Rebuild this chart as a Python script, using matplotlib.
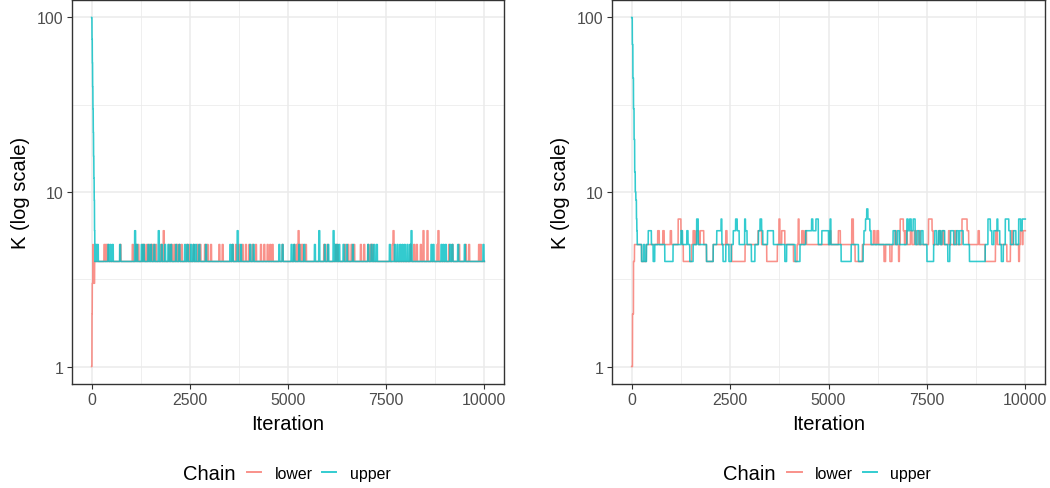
import numpy as np
import matplotlib
matplotlib.use("Agg")
import matplotlib.pyplot as plt
from matplotlib.lines import Line2D
from matplotlib.ticker import FixedLocator, NullFormatter

plt.rcParams["font.family"] = ["Liberation Sans", "DejaVu Sans"]

n_iter = 10000
spike_len = 25
colors = {"lower": "#F8766D", "upper": "#00BFC4"}

# left panel: chains settle at K = 4 with short jumps up
left_lower_t = [0, 8, 15, 30, 40, 75]
left_lower_k = [1, 2, 3, 5, 3, 4]
left_lower_spike_t = [313, 356, 398, 720, 1034, 1119, 1178, 1289, 1331, 1399, 1458, 1518, 1569,
                      1628, 1755, 1823, 1967, 2026, 2094, 2162, 2221, 2281, 2416, 2476, 2586,
                      2688, 2756, 2875, 2942, 3027, 3239, 3324, 3578, 3663, 3748, 3833, 3917,
                      4002, 4087, 4172, 4299, 4384, 4469, 4536, 4596, 4850, 5147, 5215, 5257,
                      5317, 5359, 5444, 5910, 5995, 6207, 6249, 6436, 6521, 6606, 6673, 6843,
                      6928, 7030, 7097, 7140, 7649, 7674, 8115, 8200, 8268, 8370, 8437, 8539,
                      8793, 8819, 9090, 9175, 9345, 9514, 9599, 9853, 9896]
left_lower_spike_k = [5, 5, 5, 5, 5, 5, 5, 5, 5, 5, 5, 5, 5,
                      5, 5, 6, 5, 5, 5, 5, 5, 5, 5, 5, 5,
                      5, 5, 5, 5, 5, 5, 5, 5, 5, 5, 5, 5,
                      5, 5, 5, 5, 5, 5, 5, 5, 5, 5, 5, 6,
                      5, 5, 5, 5, 5, 5, 5, 5, 5, 5, 5, 5,
                      5, 5, 5, 5, 5, 6, 5, 5, 5, 5, 6, 6,
                      5, 6, 5, 5, 5, 5, 5, 5, 5]

left_upper_t = [0, 8, 16, 24, 32, 40, 48, 56, 64, 72, 80]
left_upper_k = [100, 75, 55, 40, 30, 22, 16, 12, 9, 6, 4]
left_upper_spike_t = [101, 144, 415, 466, 525, 712, 1094, 1144, 1263, 1314, 1433, 1500, 1585,
                      1696, 1772, 1857, 1942, 2009, 2137, 2221, 2366, 2433, 2518, 2586, 2645,
                      2730, 2900, 3519, 3578, 3705, 3790, 4028, 4112, 4766, 4850, 5079, 5147,
                      5274, 5401, 5672, 5783, 5927, 6012, 6148, 6182, 6233, 6292, 6402, 6487,
                      6640, 7030, 7114, 7182, 7250, 7581, 7708, 7776, 7844, 7903, 7962, 8030,
                      8098, 8132, 8641, 8692, 8895, 8946, 9005, 9116, 9175, 9319, 9489, 9964]
left_upper_spike_k = [5, 5, 5, 5, 5, 5, 6, 5, 5, 5, 5, 5, 5,
                      6, 5, 5, 5, 5, 5, 5, 5, 5, 5, 5, 5,
                      5, 5, 5, 5, 6, 5, 5, 5, 5, 5, 5, 5,
                      5, 5, 5, 6, 5, 5, 6, 5, 5, 5, 5, 5,
                      5, 5, 5, 5, 5, 5, 5, 5, 5, 5, 5, 5,
                      5, 6, 5, 5, 5, 5, 5, 5, 5, 5, 5, 5]

# right panel: change points (iteration, new K)
right_lower_t = [0, 20, 45, 70, 250, 370, 660, 700, 790, 825, 980, 1010, 1180, 1250, 1270,
                 1310, 1520, 1560, 1600, 1640, 1700, 1740, 1830, 1900, 2070, 2390, 2420,
                 2540, 2880, 3210, 3300, 3430, 3700, 3740, 3765, 3810, 3890, 4110, 4200,
                 4230, 4250, 4320, 4360, 4400, 4440, 5030, 5060, 5250, 5300, 5590, 5630,
                 5675, 5860, 6140, 6180, 6230, 6270, 6410, 6450, 6560, 6610, 6690, 6720,
                 6780, 6800, 6820, 6900, 6930, 6960, 7000, 7080, 7120, 7180, 7230, 7300,
                 7330, 7540, 7630, 7660, 7800, 7850, 7900, 7930, 8050, 8080, 8200, 8240,
                 8390, 8520, 8560, 8800, 8830, 8980, 9240, 9250, 9290, 9530, 9620, 9650,
                 9690, 9830, 9850, 9870, 9920, 9940]
right_lower_k = [1, 2, 4, 5, 4, 5, 6, 5, 6, 5, 6, 5, 7, 6, 5,
                 4, 5, 6, 5, 6, 5, 6, 5, 4, 5, 6, 5,
                 4, 5, 6, 5, 4, 5, 7, 5, 6, 5, 4, 5,
                 7, 5, 6, 5, 6, 5, 6, 5, 6, 5, 7, 5,
                 4, 5, 6, 5, 6, 5, 4, 5, 4, 5, 6, 5,
                 4, 5, 7, 6, 5, 6, 5, 6, 5, 6, 5, 6,
                 5, 7, 6, 5, 6, 5, 6, 5, 6, 5, 6, 5,
                 7, 6, 5, 6, 5, 4, 5, 6, 5, 4, 5, 6,
                 5, 4, 5, 6, 5, 6]

right_upper_t = [0, 15, 30, 45, 60, 75, 90, 105, 120, 130, 140, 250, 300, 330, 375, 420, 500,
                 545, 585, 840, 1050, 1250, 1290, 1400, 1430, 1475, 1560, 1650, 1690, 1900,
                 2070, 2160, 2270, 2290, 2320, 2390, 2470, 2530, 2580, 2640, 2680, 2730,
                 2870, 2890, 2930, 3040, 3130, 3220, 3260, 3300, 3330, 3450, 3600, 3890,
                 3935, 4150, 4275, 4420, 4570, 4600, 4680, 4740, 4830, 5000, 5040, 5060,
                 5320, 5575, 5760, 5880, 5900, 5940, 5970, 6000, 6050, 6080, 6640, 6700,
                 6750, 6800, 6990, 7020, 7060, 7100, 7150, 7200, 7250, 7300, 7350, 7400,
                 7500, 7670, 7700, 7750, 7800, 7840, 7880, 7950, 8030, 8080, 8100, 8180,
                 8250, 8300, 8330, 8420, 8580, 8980, 9050, 9110, 9150, 9200, 9280, 9300,
                 9350, 9390, 9440, 9490, 9580, 9620, 9700, 9760, 9830, 9880, 9920]
right_upper_k = [100, 70, 45, 30, 20, 13, 10, 9, 7, 6, 5, 4, 5, 4, 5, 6, 5,
                 4, 5, 4, 5, 6, 5, 6, 5, 4, 5, 7, 5, 4,
                 5, 6, 7, 5, 4, 5, 4, 5, 6, 7, 6, 5,
                 7, 6, 5, 4, 5, 6, 7, 6, 5, 6, 5, 4,
                 5, 4, 5, 6, 7, 6, 7, 5, 6, 5, 7, 5,
                 4, 5, 4, 5, 6, 7, 8, 7, 6, 5, 6, 5,
                 6, 5, 7, 6, 7, 6, 7, 5, 6, 5, 6, 5,
                 4, 5, 6, 5, 6, 5, 6, 5, 4, 5, 6, 5,
                 6, 5, 6, 5, 4, 5, 7, 6, 5, 6, 7, 6,
                 5, 4, 5, 7, 6, 5, 6, 5, 7, 6, 7]


def expand(starts, values):
    k = np.empty(n_iter + 1)
    for s, v in zip(starts, values):
        k[s:] = v
    return k


def with_spikes(starts, values, spike_t, spike_k, base=4):
    t = list(starts)
    k = list(values)
    for s, v in zip(spike_t, spike_k):
        t += [s, s + spike_len]
        k += [v, base]
    order = np.argsort(t, kind="stable")
    return [t[i] for i in order], [k[i] for i in order]


def style(ax):
    ax.set_yscale("log")
    ax.set_xlim(-500, 10500)
    ax.set_ylim(10 ** -0.1, 10 ** 2.1)
    ax.yaxis.set_major_locator(FixedLocator([1, 10, 100]))
    ax.set_yticklabels(["1", "10", "100"])
    ax.yaxis.set_minor_locator(FixedLocator([10 ** 0.5, 10 ** 1.5]))
    ax.yaxis.set_minor_formatter(NullFormatter())
    ax.set_xticks([0, 2500, 5000, 7500, 10000])
    ax.set_xticks([1250, 3750, 6250, 8750], minor=True)
    ax.grid(which="major", color="#EBEBEB", lw=1.1)
    ax.grid(which="minor", color="#EBEBEB", lw=0.55)
    ax.set_axisbelow(True)
    ax.tick_params(which="minor", length=0)
    ax.tick_params(which="major", length=3.5, width=0.8, color="#333333",
                   labelcolor="#4D4D4D", labelsize=11.4, pad=2.5)
    for sp in ax.spines.values():
        sp.set_color("#333333")
        sp.set_linewidth(1.0)
    ax.set_xlabel("Iteration", fontsize=14.5, labelpad=5)
    ax.set_ylabel("K (log scale)", fontsize=14.5, labelpad=5)


def legend(ax):
    ax.text(0.257, -0.232, "Chain", transform=ax.transAxes, fontsize=14.5,
            ha="left", va="center")
    handles = [Line2D([], [], color=colors[c], lw=1.4, alpha=0.8) for c in ["lower", "upper"]]
    ax.legend(handles, ["lower", "upper"], loc="center left", bbox_to_anchor=(0.405, -0.232),
              ncol=2, frameon=False, fontsize=11.4, handlelength=0.9, handletextpad=0.85,
              columnspacing=0.6, borderaxespad=0, borderpad=0)


fig = plt.figure(figsize=(10.5, 4.89), dpi=100)
ax1 = fig.add_axes([72 / 1050, 104 / 489, 432 / 1050, 384 / 489])
ax2 = fig.add_axes([612 / 1050, 104 / 489, 433 / 1050, 384 / 489])
it = np.arange(n_iter + 1)

lt, lk = with_spikes(left_lower_t, left_lower_k, left_lower_spike_t, left_lower_spike_k)
ut, uk = with_spikes(left_upper_t, left_upper_k, left_upper_spike_t, left_upper_spike_k)
ax1.plot(it, expand(lt, lk), color=colors["lower"], lw=1.15, alpha=0.8)
ax1.plot(it, expand(ut, uk), color=colors["upper"], lw=1.15, alpha=0.8)

ax2.plot(it, expand(right_lower_t, right_lower_k), color=colors["lower"], lw=1.15, alpha=0.8)
ax2.plot(it, expand(right_upper_t, right_upper_k), color=colors["upper"], lw=1.15, alpha=0.8)

for ax in (ax1, ax2):
    style(ax)
    legend(ax)

fig.savefig("out.png", dpi=100)
